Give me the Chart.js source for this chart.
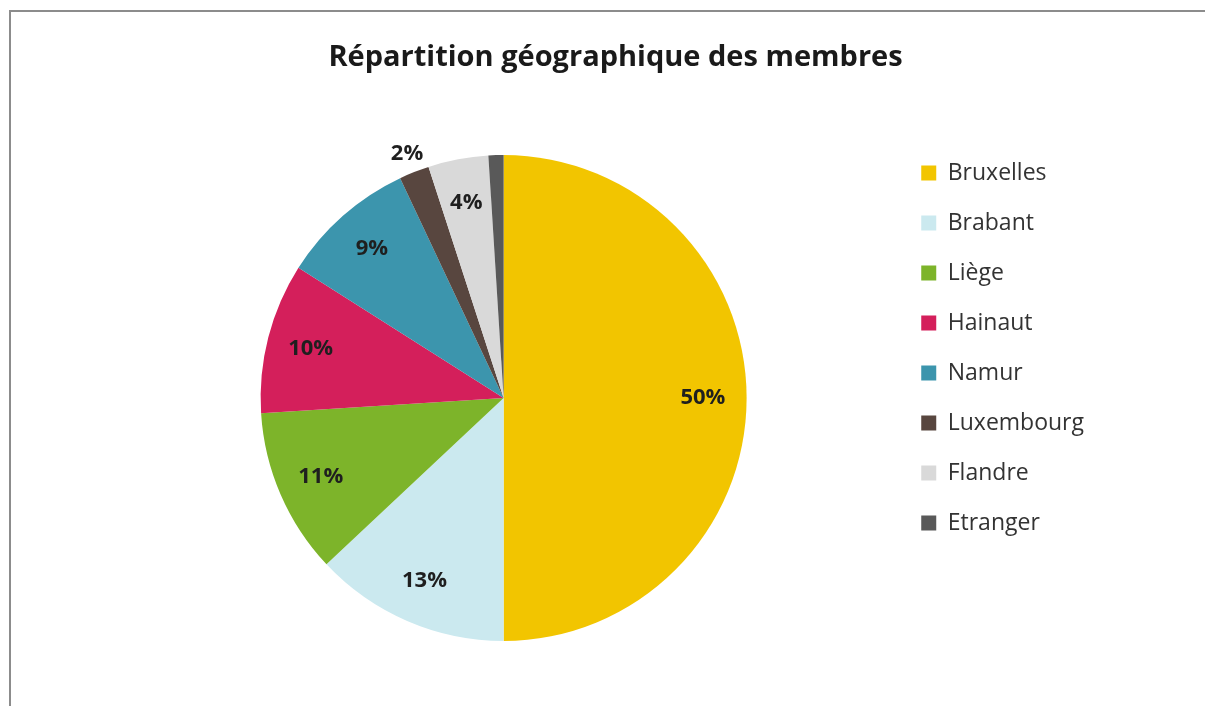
<!DOCTYPE html>
<html lang="fr">
<head>
<meta charset="utf-8">
<title>Répartition géographique des membres</title>
<script src="https://cdn.jsdelivr.net/npm/chart.js@4.4.1/dist/chart.umd.min.js"></script>
<style>
  html, body { margin: 0; padding: 0; background: #fff; overflow: hidden; }
  #cadre {
    position: absolute; left: 9px; top: 10px;
    width: 1210px; height: 694px;
    border-left: 2px solid #8c8c8c; border-top: 2px solid #8c8c8c;
  }
</style>
</head>
<body>
<div id="cadre"><canvas id="repartitionChart"></canvas></div>
<script>
/* Répartition géographique des membres */

const regions = ['Bruxelles', 'Brabant', 'Liège', 'Hainaut', 'Namur', 'Luxembourg', 'Flandre', 'Etranger'];
const membres = [50, 13, 11, 10, 9, 2, 4, 1];
const couleurs = ['#f2c500', '#cbe9ef', '#7db42a', '#d41f5b', '#3c95ad', '#58463f', '#d9d9d9', '#595959'];

// étiquettes en % dans les parts (la plus petite part n'en a pas)
const etiquettesPourcent = {
  id: 'etiquettesPourcent',
  afterDatasetsDraw(chart) {
    const ctx = chart.ctx;
    const meta = chart.getDatasetMeta(0);
    const total = membres.reduce((a, b) => a + b, 0);
    ctx.save();
    ctx.font = 'bold 22px "Open Sans"';
    ctx.fillStyle = '#1f1f1f';
    ctx.textAlign = 'center';
    ctx.textBaseline = 'middle';
    meta.data.forEach((arc, i) => {
      const pct = membres[i] / total * 100;
      if (pct < 1.5) return;
      const p = arc.getProps(['x', 'y', 'startAngle', 'endAngle', 'outerRadius'], true);
      const mid = (p.startAngle + p.endAngle) / 2;
      const k = pct < 3 ? 1.08 : 0.82;
      ctx.fillText(Math.round(pct) + '%', p.x + Math.cos(mid) * p.outerRadius * k, p.y + Math.sin(mid) * p.outerRadius * k);
    });
    ctx.restore();
  }
};

// le titre est centré sur tout le cadre, pas seulement sur camembert + légende
const decalageTitre = {
  id: 'decalageTitre',
  afterLayout(chart) {
    chart.titleBlock.left += 12;
    chart.titleBlock.right += 12;
  }
};

const ctx = document.getElementById('repartitionChart').getContext('2d');
const repartitionChart = new Chart(ctx, {
  type: 'pie',
  data: {
    labels: regions,
    datasets: [{
      data: membres,
      backgroundColor: couleurs,
      borderWidth: 0
    }]
  },
  options: {
    responsive: true,
    maintainAspectRatio: false,
    animation: false,
    events: [],
    layout: {
      padding: { left: 102, right: 127, top: 0, bottom: 65 }
    },
    plugins: {
      title: {
        display: true,
        text: 'Répartition géographique des membres',
        color: '#1a1a1a',
        font: { family: 'Open Sans', size: 29, weight: 'bold' },
        padding: { top: 28.2, bottom: 80 }
      },
      legend: {
        position: 'right',
        align: 'start',
        fullSize: true,
        title: { display: true, text: '', font: { size: 10 }, padding: { top: 110.5, bottom: 0 } },
        labels: {
          boxWidth: 15,
          boxHeight: 15,
          padding: 27,
          color: '#333333',
          font: { family: 'Open Sans', size: 23 }
        }
      },
      tooltip: { enabled: false }
    }
  },
  plugins: [etiquettesPourcent, decalageTitre]
});
</script>
</body>
</html>
